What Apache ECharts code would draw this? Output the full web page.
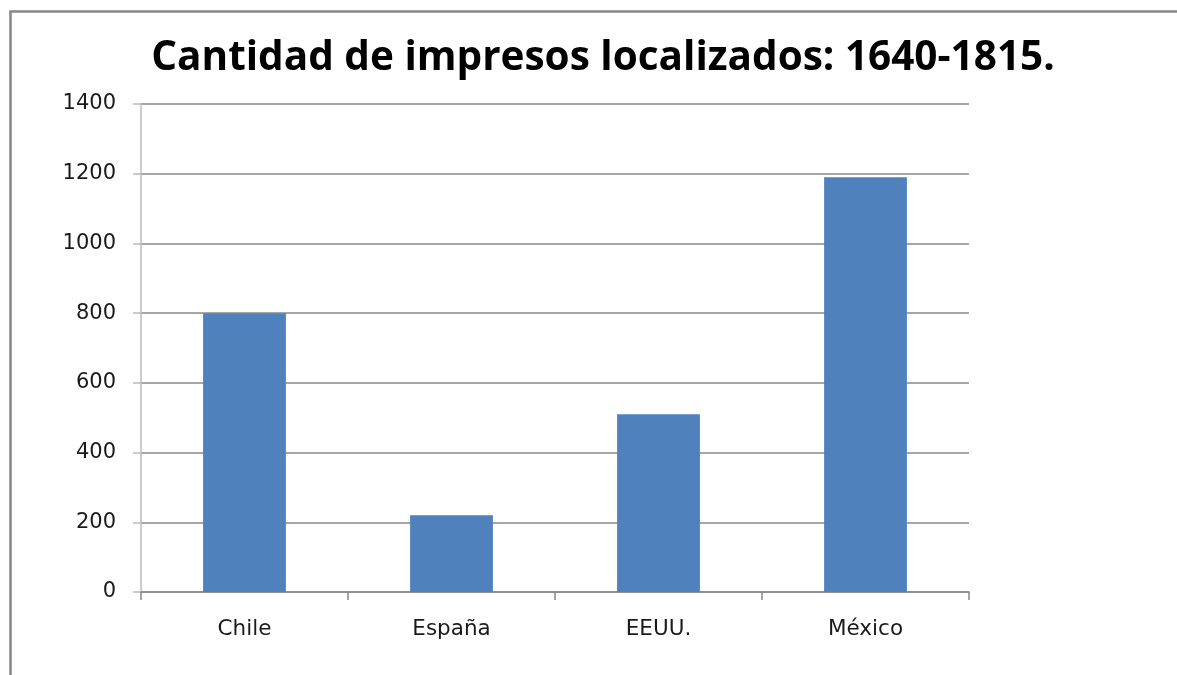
<!DOCTYPE html>
<html>
<head>
<meta charset="utf-8">
<script src="https://cdn.jsdelivr.net/npm/echarts@6/dist/echarts.min.js"></script>
<style>
html,body{margin:0;padding:0;background:#fff;}
#c{width:1177px;height:675px;}
</style>
</head>
<body>
<div id="c"></div>
<script>
const titleText = 'Cantidad de impresos localizados: 1640-1815.';
const categories = ['Chile', 'España', 'EEUU.', 'México'];
const values = [800, 220, 510, 1190];

const chart = echarts.init(document.getElementById('c'), null, {renderer: 'canvas'});
chart.setOption({
  backgroundColor: '#fff',
  animation: false,
  title: {
    text: titleText,
    left: 598, textAlign: 'center',
    top: 33,
    textStyle: {fontFamily: 'Open Sans', fontWeight: 'bold', fontSize: 40.5, color: '#000'}
  },
  graphic: [{
    type: 'rect', left: 8, top: 9,
    shape: {width: 1200, height: 700},
    style: {fill: 'none', stroke: '#878787', lineWidth: 2.5},
    silent: true
  }],
  grid: {left: 141, right: 208, top: 104, bottom: 83, containLabel: false},
  xAxis: {
    type: 'category',
    data: categories,
    axisLine: {lineStyle: {color: '#888', width: 1.5}},
    axisTick: {show: true, length: 8, alignWithLabel: false, lineStyle: {color: '#888', width: 1.5}},
    axisLabel: {fontFamily: 'DejaVu Sans', fontSize: 21.5, color: '#1a1a1a', margin: 26}
  },
  yAxis: {
    type: 'value',
    min: 0, max: 1400, interval: 200,
    axisLine: {show: true, lineStyle: {color: '#bbb', width: 1.5}},
    axisTick: {show: true, length: 8, lineStyle: {color: '#bbb', width: 1.5}},
    splitLine: {lineStyle: {color: '#888', width: 1.5}},
    axisLabel: {fontFamily: 'DejaVu Sans', fontSize: 21, color: '#1a1a1a', margin: 25,
      formatter: function (v) { return String(v); }}
  },
  series: [{
    type: 'bar',
    data: values,
    barCategoryGap: '60%',
    itemStyle: {color: '#4F81BD'}
  }]
});
</script>
</body>
</html>
